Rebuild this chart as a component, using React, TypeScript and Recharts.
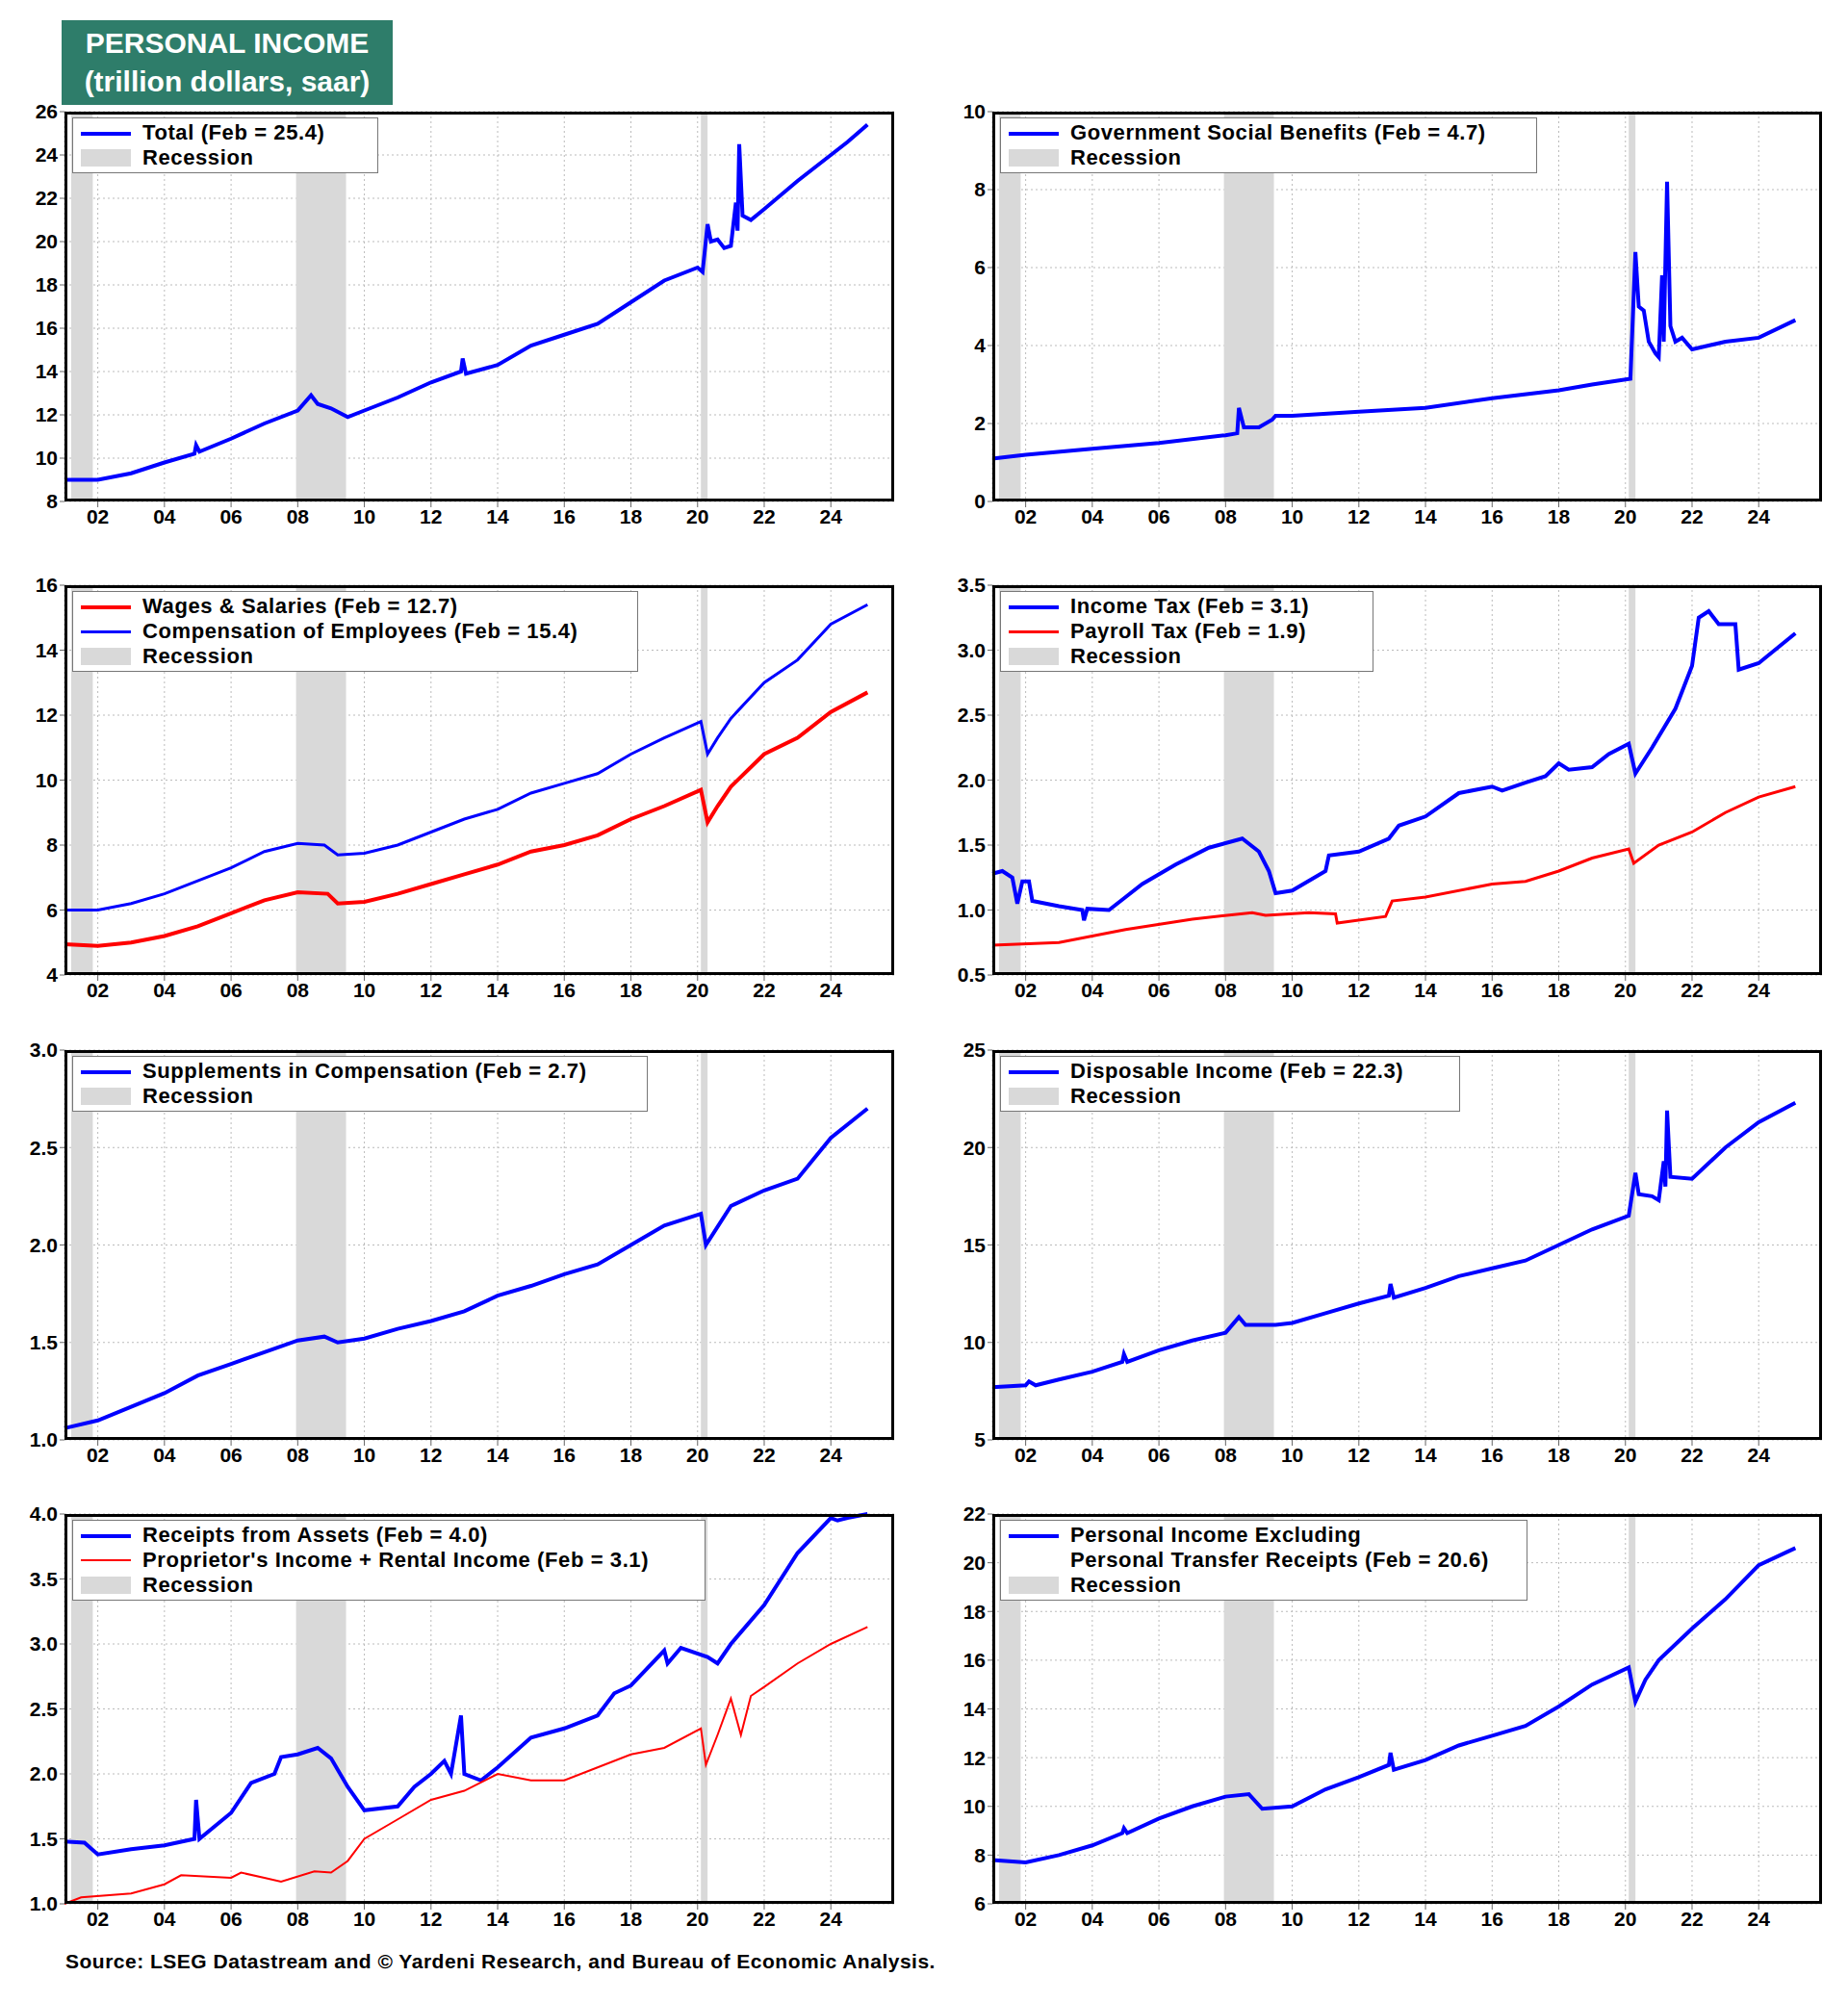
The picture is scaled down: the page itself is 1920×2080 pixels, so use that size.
import React from "react";
import {
  LineChart,
  Line,
  XAxis,
  YAxis,
  CartesianGrid,
  ReferenceArea,
} from "recharts";

// [year, trillion dollars]
const totalPI = [
  [2001, 9.0], [2002, 9.0], [2003, 9.3], [2004, 9.8], [2004.9, 10.2], [2004.95, 10.6], [2005.05, 10.3],
  [2006, 10.9], [2007, 11.6], [2008, 12.2], [2008.4, 12.9], [2008.6, 12.5], [2009, 12.3], [2009.5, 11.9],
  [2010, 12.2], [2011, 12.8], [2012, 13.5], [2012.9, 14.0], [2012.95, 14.6], [2013.05, 13.9], [2014, 14.3],
  [2015, 15.2], [2016, 15.7], [2017, 16.2], [2018, 17.2], [2019, 18.2], [2020, 18.8], [2020.15, 18.6],
  [2020.3, 20.8], [2020.4, 20.0], [2020.6, 20.1], [2020.8, 19.7], [2021, 19.8], [2021.15, 21.8],
  [2021.2, 20.5], [2021.25, 24.5], [2021.35, 21.2], [2021.6, 21.0], [2022, 21.5], [2023, 22.8],
  [2024, 24.0], [2024.5, 24.6], [2025.1, 25.4],
];
const govBenefits = [
  [2001, 1.1], [2002, 1.2], [2004, 1.35], [2006, 1.5], [2008, 1.7], [2008.35, 1.75], [2008.4, 2.4],
  [2008.55, 1.9], [2009, 1.9], [2009.4, 2.1], [2009.5, 2.2], [2010, 2.2], [2012, 2.3], [2014, 2.4],
  [2016, 2.65], [2018, 2.85], [2019, 3.0], [2020.15, 3.15], [2020.3, 6.4], [2020.4, 5.0], [2020.55, 4.9],
  [2020.7, 4.1], [2020.9, 3.8], [2021, 3.7], [2021.1, 5.8], [2021.15, 4.1], [2021.25, 8.2],
  [2021.35, 4.5], [2021.5, 4.1], [2021.7, 4.2], [2022, 3.9], [2023, 4.1], [2024, 4.2], [2025.1, 4.65],
];
const compensation = [
  [2001, 6.0], [2002, 6.0], [2003, 6.2], [2004, 6.5], [2005, 6.9], [2006, 7.3], [2007, 7.8], [2008, 8.05],
  [2008.8, 8.0], [2009.2, 7.7], [2010, 7.75], [2011, 8.0], [2012, 8.4], [2013, 8.8], [2014, 9.1],
  [2015, 9.6], [2016, 9.9], [2017, 10.2], [2018, 10.8], [2019, 11.3], [2020.1, 11.8], [2020.3, 10.8],
  [2020.6, 11.3], [2021, 11.9], [2022, 13.0], [2023, 13.7], [2024, 14.8], [2025.1, 15.4],
];
const wages = [
  [2001, 4.95], [2002, 4.9], [2003, 5.0], [2004, 5.2], [2005, 5.5], [2006, 5.9], [2007, 6.3], [2008, 6.55],
  [2008.9, 6.5], [2009.2, 6.2], [2010, 6.25], [2011, 6.5], [2012, 6.8], [2013, 7.1], [2014, 7.4],
  [2015, 7.8], [2016, 8.0], [2017, 8.3], [2018, 8.8], [2019, 9.2], [2020.1, 9.7], [2020.3, 8.7],
  [2020.6, 9.2], [2021, 9.8], [2022, 10.8], [2023, 11.3], [2024, 12.1], [2025.1, 12.7],
];
const incomeTax = [
  [2001, 1.28], [2001.3, 1.3], [2001.6, 1.25], [2001.75, 1.05], [2001.9, 1.22], [2002.1, 1.22],
  [2002.2, 1.07], [2003, 1.03], [2003.7, 1.0], [2003.75, 0.92], [2003.85, 1.01], [2004.5, 1.0],
  [2005, 1.1], [2005.5, 1.2], [2006.5, 1.35], [2007.5, 1.48], [2008.5, 1.55], [2009, 1.45], [2009.3, 1.3],
  [2009.5, 1.13], [2010, 1.15], [2011, 1.3], [2011.1, 1.42], [2012, 1.45], [2012.9, 1.55], [2013.2, 1.65],
  [2014, 1.72], [2015, 1.9], [2016, 1.95], [2016.3, 1.92], [2017, 1.98], [2017.6, 2.03], [2018, 2.13],
  [2018.3, 2.08], [2019, 2.1], [2019.5, 2.2], [2020.1, 2.28], [2020.3, 2.05], [2020.8, 2.25],
  [2021.5, 2.55], [2022, 2.88], [2022.2, 3.25], [2022.5, 3.3], [2022.8, 3.2], [2023.3, 3.2],
  [2023.4, 2.85], [2024, 2.9], [2025.1, 3.13],
];
const payrollTax = [
  [2001, 0.73], [2003, 0.75], [2005, 0.85], [2007, 0.93], [2008.8, 0.98], [2009.2, 0.96], [2010.5, 0.98],
  [2011.3, 0.97], [2011.35, 0.9], [2012.8, 0.95], [2013, 1.07], [2014, 1.1], [2016, 1.2], [2017, 1.22],
  [2018, 1.3], [2019, 1.4], [2020.1, 1.47], [2020.25, 1.36], [2021, 1.5], [2022, 1.6], [2023, 1.75],
  [2024, 1.87], [2025.1, 1.95],
];
const supplements = [
  [2001, 1.06], [2002, 1.1], [2003, 1.17], [2004, 1.24], [2005, 1.33], [2006, 1.39], [2007, 1.45],
  [2008, 1.51], [2008.8, 1.53], [2009.2, 1.5], [2010, 1.52], [2011, 1.57], [2012, 1.61], [2013, 1.66],
  [2014, 1.74], [2015, 1.79], [2016, 1.85], [2017, 1.9], [2018, 2.0], [2019, 2.1], [2020.1, 2.16],
  [2020.25, 2.0], [2021, 2.2], [2022, 2.28], [2023, 2.34], [2024, 2.55], [2025.1, 2.7],
];
const disposable = [
  [2001, 7.7], [2002, 7.8], [2002.1, 8.0], [2002.3, 7.8], [2003, 8.1], [2004, 8.5], [2004.9, 9.0],
  [2004.95, 9.4], [2005.05, 9.0], [2006, 9.6], [2007, 10.1], [2008, 10.5], [2008.4, 11.3], [2008.6, 10.9],
  [2009.5, 10.9], [2010, 11.0], [2011, 11.5], [2012, 12.0], [2012.9, 12.4], [2012.95, 13.0],
  [2013.05, 12.3], [2014, 12.8], [2015, 13.4], [2016, 13.8], [2017, 14.2], [2018, 15.0], [2019, 15.8],
  [2020.1, 16.5], [2020.3, 18.7], [2020.4, 17.6], [2020.8, 17.5], [2021, 17.3], [2021.15, 19.3],
  [2021.2, 18.0], [2021.25, 21.9], [2021.35, 18.5], [2022, 18.4], [2023, 20.0], [2024, 21.3], [2025.1, 22.3],
];
const assets = [
  [2001, 1.48], [2001.6, 1.47], [2002, 1.38], [2003, 1.42], [2004, 1.45], [2004.9, 1.5], [2004.95, 1.8],
  [2005.05, 1.5], [2006, 1.7], [2006.6, 1.93], [2007.3, 2.0], [2007.5, 2.13], [2008, 2.15], [2008.6, 2.2],
  [2009, 2.12], [2009.5, 1.9], [2010, 1.72], [2011, 1.75], [2011.5, 1.9], [2012, 2.0], [2012.4, 2.1],
  [2012.6, 2.0], [2012.9, 2.45], [2013, 2.0], [2013.5, 1.95], [2014, 2.05], [2015, 2.28], [2016, 2.35],
  [2017, 2.45], [2017.5, 2.62], [2018, 2.68], [2019, 2.95], [2019.1, 2.85], [2019.5, 2.97],
  [2020.3, 2.9], [2020.6, 2.85], [2021, 3.0], [2022, 3.3], [2023, 3.7], [2024, 3.97], [2024.2, 3.95],
  [2024.5, 3.97], [2025.1, 4.0],
];
const proprietors = [
  [2001, 1.0], [2001.5, 1.05], [2003, 1.08], [2004, 1.15], [2004.5, 1.22], [2006, 1.2], [2006.3, 1.24],
  [2007, 1.2], [2007.5, 1.17], [2008.5, 1.25], [2009, 1.24], [2009.5, 1.33], [2010, 1.5], [2011, 1.65],
  [2012, 1.8], [2013, 1.87], [2014, 2.0], [2015, 1.95], [2016, 1.95], [2017, 2.05], [2018, 2.15],
  [2019, 2.2], [2020.1, 2.35], [2020.25, 2.07], [2020.6, 2.3], [2021, 2.58], [2021.3, 2.3],
  [2021.6, 2.6], [2022, 2.67], [2023, 2.85], [2024, 3.0], [2025.1, 3.13],
];
const exTransfers = [
  [2001, 7.8], [2002, 7.7], [2003, 8.0], [2004, 8.4], [2004.9, 8.9], [2004.95, 9.1], [2005.05, 8.9],
  [2006, 9.5], [2007, 10.0], [2008, 10.4], [2008.7, 10.5], [2009.1, 9.9], [2010, 10.0], [2011, 10.7],
  [2012, 11.2], [2012.9, 11.7], [2012.95, 12.2], [2013.05, 11.5], [2014, 11.9], [2015, 12.5],
  [2016, 12.9], [2017, 13.3], [2018, 14.1], [2019, 15.0], [2020.1, 15.7], [2020.3, 14.3], [2020.6, 15.2],
  [2021, 16.0], [2022, 17.3], [2023, 18.5], [2024, 19.9], [2025.1, 20.6],
];

const recessions = [[2001.2, 2001.85], [2007.95, 2009.45], [2020.1, 2020.3]];
const yearTicks = [2002, 2004, 2006, 2008, 2010, 2012, 2014, 2016, 2018, 2020, 2022, 2024];

const BLUE = "#0000ff";
const RED = "#ff0000";
const FONT = "Arial, 'Liberation Sans', sans-serif";
const YW = 62;
const XH = 40;
const MT = 14;
const PW = 862;
const PH = 405;

const toRows = (pts: number[][]) => pts.map(([x, y]) => ({ x, y }));

type S = { pts: number[][]; color: string; width: number; label: string };

const Panel = ({ left, top, domain, ticks, series, fmt, legendW }: {
  left: number; top: number; domain: [number, number]; ticks: number[]; series: S[];
  fmt: (v: number) => string; legendW: number;
}) => (
  <div style={{ position: "absolute", left: left - YW, top: top - MT, width: PW + YW, height: PH + XH + MT }}>
    <LineChart width={PW + YW} height={PH + XH + MT} margin={{ top: MT, right: 0, left: 0, bottom: 0 }}>
      <CartesianGrid stroke="#bbb" strokeDasharray="2 3" />
      <XAxis type="number" dataKey="x" domain={[2001, 2025.9]} ticks={yearTicks} allowDuplicatedCategory={false}
        tickFormatter={(v) => String(v).slice(2)} height={XH}
        tick={{ fill: "#000", fontSize: 21, fontWeight: 700, fontFamily: FONT }} axisLine={false} tickSize={6} />
      <YAxis type="number" domain={domain} ticks={ticks} width={YW} tickFormatter={fmt} interval={0}
        tick={{ fill: "#000", fontSize: 21, fontWeight: 700, fontFamily: FONT }} axisLine={false} tickSize={5} />
      {recessions.map(([a, b], i) => (
        <ReferenceArea key={i} x1={a} x2={b} y1={domain[0]} y2={domain[1]} fill="#d9d9d9" fillOpacity={1} stroke="none" />
      ))}
      {series.map((s, i) => (
        <Line key={i} data={toRows(s.pts)} dataKey="y" type="linear" stroke={s.color} strokeWidth={s.width}
          dot={false} isAnimationActive={false} />
      ))}
    </LineChart>
    <div style={{ position: "absolute", left: YW, top: MT, width: PW, height: PH, border: "3px solid #000",
      boxSizing: "border-box", pointerEvents: "none" }} />
    <div style={{ position: "absolute", left: YW + 8, top: MT + 6, width: legendW, background: "#fff",
      border: "1px solid #777", padding: "2px 8px", fontFamily: FONT, fontWeight: 700, fontSize: 22,
      letterSpacing: 0.6, lineHeight: "26px" }}>
      {series.map((s, i) => (
        <div key={i} style={{ display: "flex", alignItems: "flex-start" }}>
          <span style={{ display: "inline-block", width: 52, minWidth: 52, height: s.width, background: s.color,
            marginTop: 12, marginRight: 12 }} />
          <span style={{ whiteSpace: "pre" }}>{s.label}</span>
        </div>
      ))}
      <div style={{ display: "flex", alignItems: "center" }}>
        <span style={{ display: "inline-block", width: 52, height: 18, background: "#d9d9d9", marginRight: 12 }} />
        Recession
      </div>
    </div>
  </div>
);

const r = (step: number, a: number, b: number) => {
  const out: number[] = [];
  for (let v = a; v <= b + 1e-9; v += step) out.push(Math.round(v * 100) / 100);
  return out;
};
const f0 = (v: number) => v.toFixed(0);
const f1 = (v: number) => v.toFixed(1);

const LX = 67;
const RX = 1031;

export default function App() {
  return (
    <div style={{ position: "absolute", left: 0, top: 0, width: 1920, height: 2080, background: "#fff", fontFamily: FONT }}>
      <div style={{ position: "absolute", left: 64, top: 21, width: 344, height: 88, background: "#2e7d6a",
        color: "#fff", fontWeight: 700, fontSize: 30, lineHeight: "40px", textAlign: "center", paddingTop: 4, boxSizing: "border-box" }}>
        PERSONAL INCOME<br />(trillion dollars, saar)
      </div>
      <Panel left={LX} top={116} domain={[8, 26]} ticks={r(2, 8, 26)} fmt={f0} legendW={300}
        series={[{ pts: totalPI, color: BLUE, width: 4, label: "Total (Feb = 25.4)" }]} />
      <Panel left={RX} top={116} domain={[0, 10]} ticks={r(2, 0, 10)} fmt={f0} legendW={540}
        series={[{ pts: govBenefits, color: BLUE, width: 4, label: "Government Social Benefits (Feb = 4.7)" }]} />
      <Panel left={LX} top={608} domain={[4, 16]} ticks={r(2, 4, 16)} fmt={f0} legendW={570}
        series={[
          { pts: wages, color: RED, width: 4, label: "Wages & Salaries (Feb = 12.7)" },
          { pts: compensation, color: BLUE, width: 3, label: "Compensation of Employees (Feb = 15.4)" },
        ]} />
      <Panel left={RX} top={608} domain={[0.5, 3.5]} ticks={r(0.5, 0.5, 3.5)} fmt={f1} legendW={370}
        series={[
          { pts: incomeTax, color: BLUE, width: 4, label: "Income Tax (Feb = 3.1)" },
          { pts: payrollTax, color: RED, width: 3, label: "Payroll Tax (Feb = 1.9)" },
        ]} />
      <Panel left={LX} top={1091} domain={[1, 3]} ticks={r(0.5, 1, 3)} fmt={f1} legendW={580}
        series={[{ pts: supplements, color: BLUE, width: 4, label: "Supplements in Compensation (Feb = 2.7)" }]} />
      <Panel left={RX} top={1091} domain={[5, 25]} ticks={r(5, 5, 25)} fmt={f0} legendW={460}
        series={[{ pts: disposable, color: BLUE, width: 4, label: "Disposable Income (Feb = 22.3)" }]} />
      <Panel left={LX} top={1573} domain={[1, 4]} ticks={r(0.5, 1, 4)} fmt={f1} legendW={640}
        series={[
          { pts: assets, color: BLUE, width: 4, label: "Receipts from Assets (Feb = 4.0)" },
          { pts: proprietors, color: RED, width: 2, label: "Proprietor's Income + Rental Income (Feb = 3.1)" },
        ]} />
      <Panel left={RX} top={1573} domain={[6, 22]} ticks={r(2, 6, 22)} fmt={f0} legendW={530}
        series={[{ pts: exTransfers, color: BLUE, width: 4,
          label: "Personal Income Excluding\nPersonal Transfer Receipts (Feb = 20.6)" }]} />
      <div style={{ position: "absolute", left: 68, top: 2026, fontWeight: 700, fontSize: 21, letterSpacing: 0.5 }}>
        Source: LSEG Datastream and © Yardeni Research, and Bureau of Economic Analysis.
      </div>
    </div>
  );
}
